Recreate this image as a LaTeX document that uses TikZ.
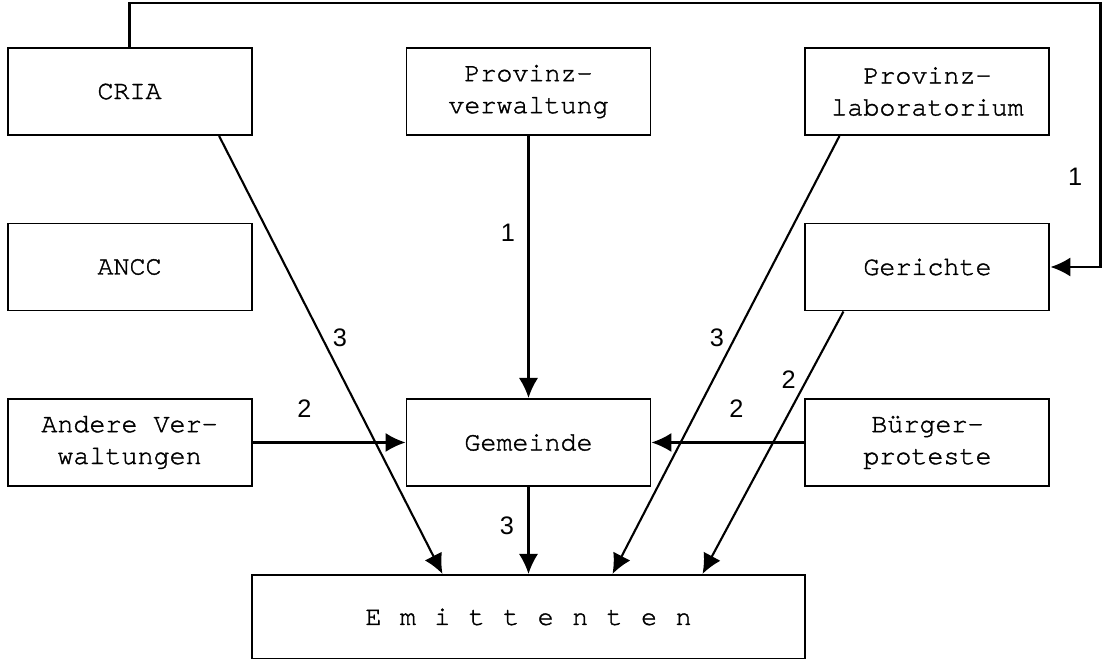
\documentclass[tikz,border=0pt]{standalone}
\usepackage{fontspec}
\usepackage{tikz}
\usetikzlibrary{positioning, arrows.meta}
\usetikzlibrary{matrix}
\newfontfamily\numfont{Liberation Sans}
\newfontfamily\typefont[FakeBold=1.4]{texgyrecursor-regular.otf}
\newcommand\boxfont{\typefont\fontsize{19}{22.7}\selectfont}

\begin{document}
\begin{tikzpicture}[
    orgbox/.style={draw, line width=1.4pt, minimum width=6.1cm, minimum height=2.175cm, align=center, font=\boxfont},
    flow/.style={line width=1.5pt, -{Latex[length=5mm,width=4.8mm]}},
    num/.style={font=\numfont\fontsize{18}{20}\selectfont, inner sep=0pt}]
    \useasboundingbox (-13.2125,-9.775) rectangle (14.3875,6.675);
    \matrix (org) [column sep=3.825cm, row sep=2.1625cm]
    {%
        \node[orgbox] (cria) {CRIA}; &
        \node[orgbox] (prov) {Provinz-\\verwaltung}; &
        \node[orgbox] (lab) {Provinz-\\laboratorium}; \\
        \node[orgbox] (ancc) {ANCC}; & &
        \node[orgbox] (court) {Gerichte}; \\
        \node[orgbox] (other) {Andere Ver-\\waltungen}; &
        \node[orgbox] (town) {Gemeinde}; &
        \node[orgbox] (protest) {Bürger-\\proteste}; \\
    };
    \node[orgbox, minimum width=13.825cm, minimum height=2.1cm, below=2.175cm of town] (emit) {\spaceskip=0.69em E m i t t e n t e n};
    \coordinate (turn) at ([xshift=1.25cm]court.east);

    \path[flow]
        (prov) edge node[num, pos=0.37, left=3.1mm] {1} (town)
        (town) edge node[num, pos=0.45, left=3.4mm] {3} (emit)
        (other) edge node[num, pos=0.34, above=6mm] {2} (town)
        (protest) edge node[num, pos=0.445, above=6mm] {2} (town)
        ([xshift=2.24cm]cria.south) edge node[num, pos=0.46, right=2.5mm] {3} ([xshift=-2.15cm]emit.north)
        ([xshift=-2.2cm]lab.south) edge node[num, pos=0.46, left=2.5mm] {3} ([xshift=2.1cm]emit.north)
        ([xshift=-2.1cm]court.south) edge node[num, pos=0.26, left=2.5mm] {2} ([xshift=4.35cm]emit.north);
    \draw[flow] (cria.north) -- ++(0,1.1) -| node[num, pos=0.83, left=4.3mm] {1} (turn) -- (court.east);
\end{tikzpicture}
\end{document}
